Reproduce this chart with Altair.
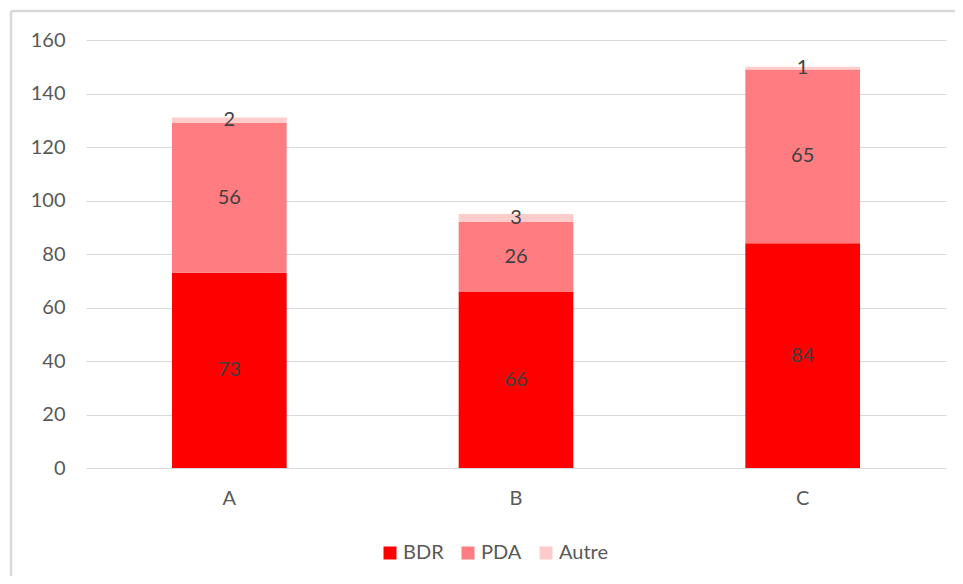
import altair as alt
import pandas as pd

categories = ["A", "B", "C"]
series = ["BDR", "PDA", "Autre"]
bdr = [73, 66, 84]
pda = [56, 26, 65]
autre = [2, 3, 1]
colors = ["#FF0000", "#FF7C80", "#FFCCCC"]

rows = []
for i, c in enumerate(categories):
    for j, (s, vals) in enumerate(zip(series, [bdr, pda, autre])):
        rows.append({"cat": c, "serie": s, "value": vals[i], "ord": j})
df = pd.DataFrame(rows)

FONT = "Lato"
FS = 20

base = alt.Chart(df).transform_stack(
    stack="value", groupby=["cat"], as_=["y0", "y1"], sort=[alt.SortField("ord")]
).transform_calculate(mid="(datum.y0 + datum.y1) / 2")

x_enc = alt.X("cat:N", sort=categories, title=None,
              scale=alt.Scale(paddingInner=0.6, paddingOuter=0.3),
              axis=alt.Axis(labelAngle=0, ticks=False, domain=False, labelPadding=20,
                            labelFontSize=FS, labelColor="#595959", labelFont=FONT))

bars = base.mark_bar().encode(
    x=x_enc,
    y=alt.Y("y0:Q", title=None,
            scale=alt.Scale(domain=[0, 160]),
            axis=alt.Axis(values=list(range(0, 161, 20)), ticks=False, domain=False,
                          labelPadding=21, labelFontSize=FS, labelColor="#595959",
                          labelFont=FONT, gridColor="#D9D9D9", gridWidth=1.2)),
    y2="y1:Q",
    color=alt.Color("serie:N", sort=series,
                    scale=alt.Scale(domain=series, range=colors),
                    legend=alt.Legend(title=None, orient="none", direction="horizontal",
                                      legendX=294, legendY=503, symbolType="square",
                                      symbolSize=169, symbolStrokeWidth=0,
                                      labelFontSize=FS, labelColor="#595959",
                                      labelFont=FONT, columnPadding=14, labelOffset=3)),
)

labels = base.mark_text(fontSize=FS, color="#404040", font=FONT).encode(
    x=alt.X("cat:N", sort=categories),
    y=alt.Y("mid:Q"),
    text="value:Q",
)

border_top = alt.Chart(alt.Data(values=[{}])).mark_rule(
    stroke="#D9D9D9", strokeWidth=2.5
).encode(x=alt.value(-75), x2=alt.value(869), y=alt.value(-29))

border_left = alt.Chart(alt.Data(values=[{}])).mark_rule(
    stroke="#D9D9D9", strokeWidth=2.5
).encode(x=alt.value(-75), y=alt.value(-29), y2=alt.value(536))

chart = alt.layer(border_top, border_left, bars, labels).properties(
    width=860, height=428,
    autosize=alt.AutoSizeParams(type="none"),
    padding={"left": 78, "top": 32, "right": 9, "bottom": 108},
).configure_view(stroke=None)

chart.save("out.html", embed_options={"renderer": "svg", "actions": False})
